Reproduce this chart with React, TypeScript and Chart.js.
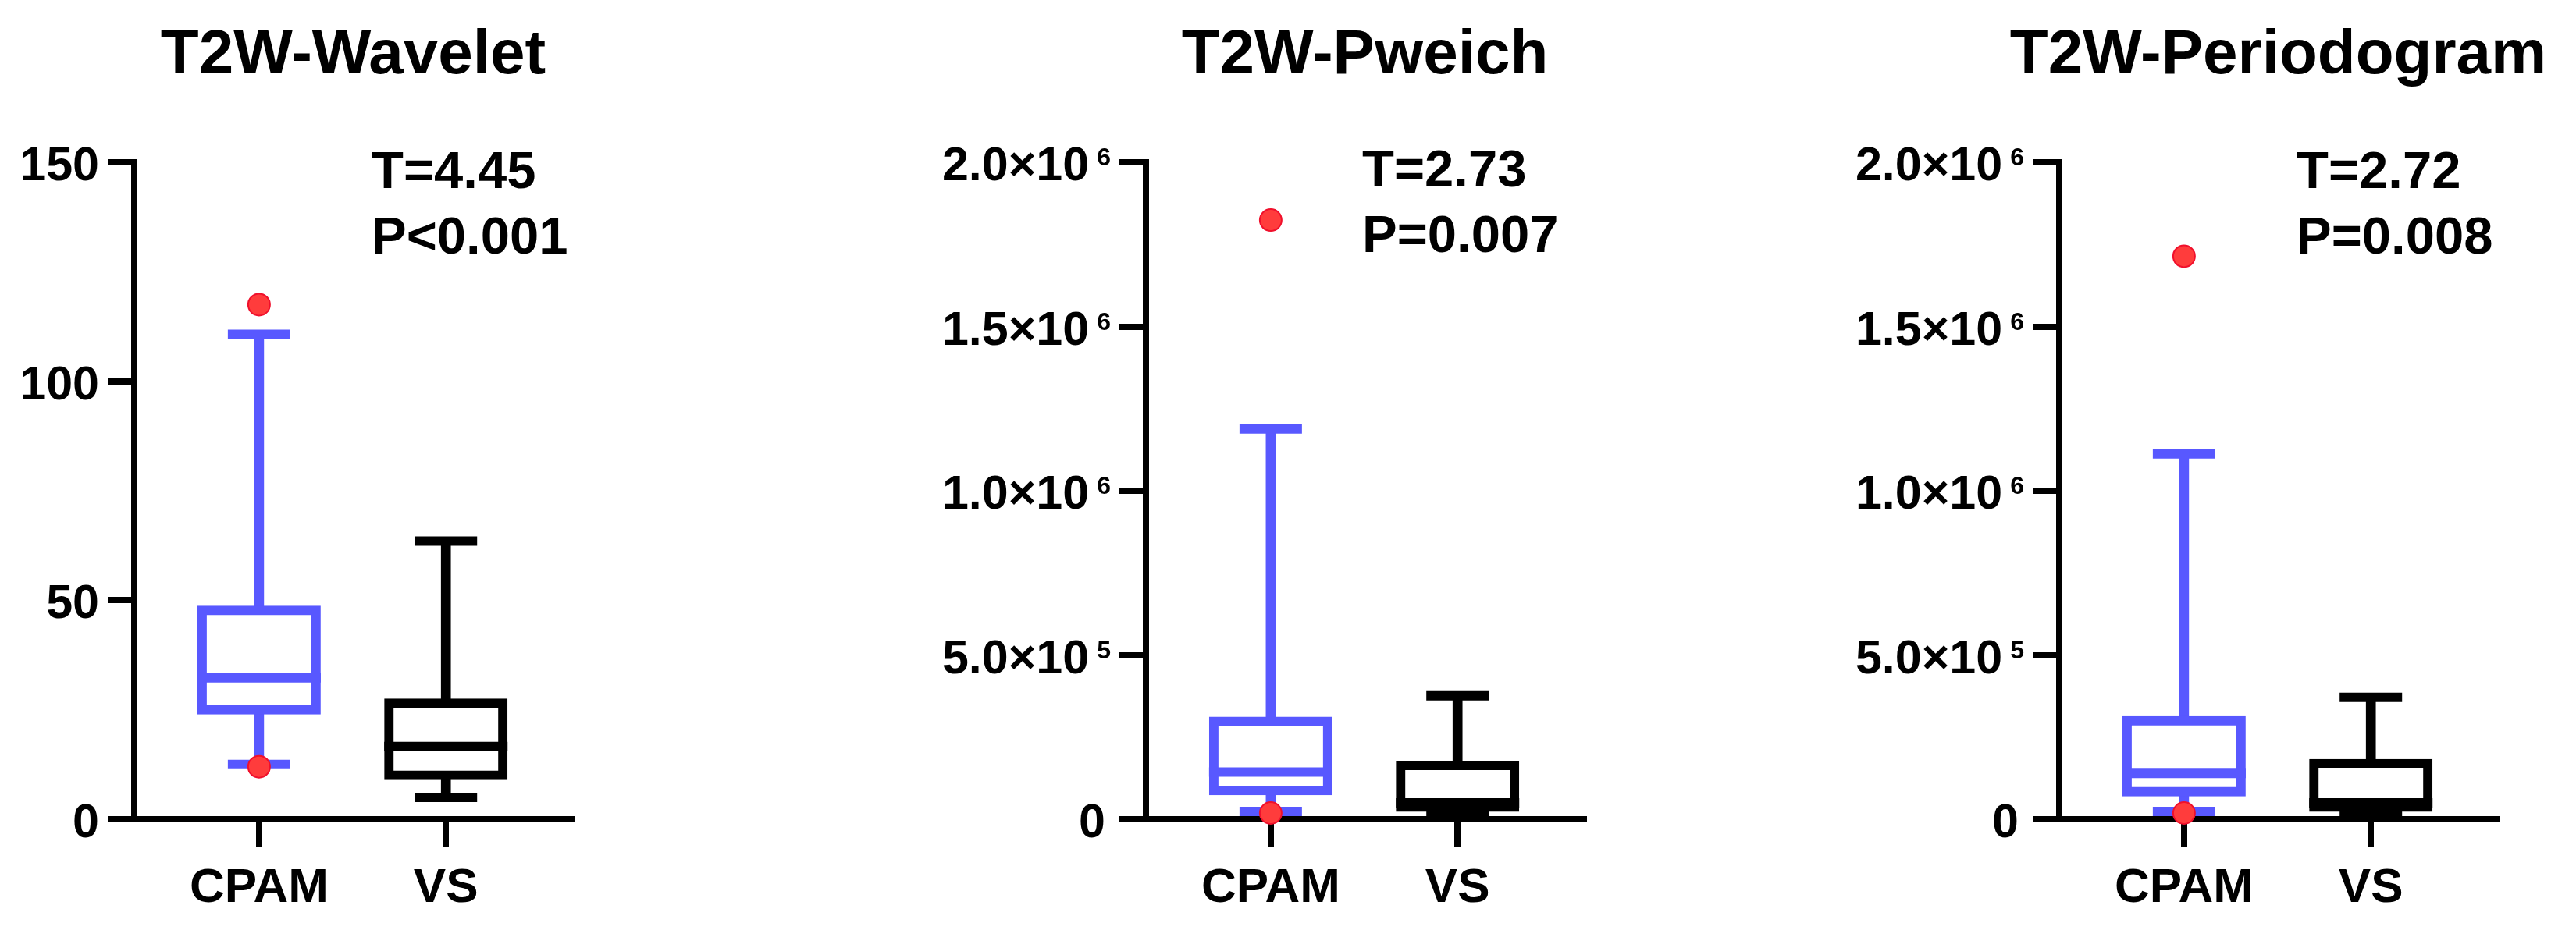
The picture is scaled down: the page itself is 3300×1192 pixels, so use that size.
import React, { useEffect, useRef } from 'react';
import { Chart, registerables } from 'chart.js';

Chart.register(...registerables);

// ---------------- data ----------------
const categories = ['CPAM', 'VS'];
const categoryPositions = [1, 2];

const panelTitles = ['T2W-Wavelet', 'T2W-Pweich', 'T2W-Periodogram'];
const statT = ['T=4.45', 'T=2.73', 'T=2.72'];
const statP = ['P<0.001', 'P=0.007', 'P=0.008'];

// values are [CPAM, VS]
const waveletMin = [12.5, 5.0];
const waveletQ1 = [25.0, 10.0];
const waveletMedian = [32.3, 16.6];
const waveletQ3 = [47.7, 26.5];
const waveletMax = [110.7, 63.5];
const waveletOutliers = [117.5, 12.0]; // both belong to CPAM

const pweichMin = [24000, 14000];
const pweichQ1 = [87000, 37000];
const pweichMedian = [144000, 50000];
const pweichQ3 = [298000, 164000];
const pweichMax = [1188000, 376000];
const pweichOutliers = [1824000, 19000]; // CPAM

const periodogramMin = [24000, 13000];
const periodogramQ1 = [84000, 37000];
const periodogramMedian = [139500, 50000];
const periodogramQ3 = [300000, 169000];
const periodogramMax = [1112000, 371000];
const periodogramOutliers = [1714000, 19000]; // CPAM

const waveletTicks = [0, 50, 100, 150];
const waveletTickMain = ['0', '50', '100', '150'];
const waveletTickSup = ['', '', '', ''];

const powerTicks = [0, 500000, 1000000, 1500000, 2000000];
const powerTickMain = ['0', '5.0×10', '1.0×10', '1.5×10', '2.0×10'];
const powerTickSup = ['', '5', '6', '6', '6'];

// ---------------- styles ----------------
const BLUE = '#5858FF';
const BLACK = '#000000';
const RED_FILL = '#FF3C3C';
const RED_BORDER = '#F0102C';
const seriesColors = [BLUE, BLACK];
const FONT = '"Liberation Sans", Arial, Helvetica, sans-serif';

const CANVAS_W = 1100;
const CANVAS_H = 1192;
const AREA_TOP = 208;
const AREA_BOTTOM = 1050;
const Y_SCALE_W = 40;
const X_SCALE_H = 40;

interface PanelSpec {
  title: string;
  t: string;
  p: string;
  min: number[];
  q1: number[];
  median: number[];
  q3: number[];
  max: number[];
  outliers: number[];
  outlierCategory: number;
  yMax: number;
  ticks: number[];
  tickMain: string[];
  tickSup: string[];
  areaLeft: number;
  areaRight: number;
  statOffset: number;
  statBase: number;
}

const panels: PanelSpec[] = [
  {
    title: panelTitles[0], t: statT[0], p: statP[0],
    min: waveletMin, q1: waveletQ1, median: waveletMedian, q3: waveletQ3, max: waveletMax,
    outliers: waveletOutliers, outlierCategory: 0,
    yMax: 150, ticks: waveletTicks, tickMain: waveletTickMain, tickSup: waveletTickSup,
    areaLeft: 172, areaRight: 733, statOffset: 304, statBase: 241,
  },
  {
    title: panelTitles[1], t: statT[1], p: statP[1],
    min: pweichMin, q1: pweichQ1, median: pweichMedian, q3: pweichQ3, max: pweichMax,
    outliers: pweichOutliers, outlierCategory: 0,
    yMax: 2000000, ticks: powerTicks, tickMain: powerTickMain, tickSup: powerTickSup,
    areaLeft: 368, areaRight: 929, statOffset: 277, statBase: 239,
  },
  {
    title: panelTitles[2], t: statT[2], p: statP[2],
    min: periodogramMin, q1: periodogramQ1, median: periodogramMedian, q3: periodogramQ3, max: periodogramMax,
    outliers: periodogramOutliers, outlierCategory: 0,
    yMax: 2000000, ticks: powerTicks, tickMain: powerTickMain, tickSup: powerTickSup,
    areaLeft: 438, areaRight: 999, statOffset: 304, statBase: 241,
  },
];

function makeConfig(spec: PanelSpec, idx: number): any {
  const pts = (vals: number[]) => vals.map((v, k) => ({ x: categoryPositions[k], y: v }));
  const ranges = (a: number[], b: number[]) => a.map((v, k) => ({ x: categoryPositions[k], y: [v, b[k]] }));

  const capData = [
    ...pts(spec.max),
    ...pts(spec.min),
  ];
  const capColors = [...seriesColors, ...seriesColors];

  const textPlugin = {
    id: 'panelText' + idx,
    afterDraw(chart: any) {
      const ctx = chart.ctx as CanvasRenderingContext2D;
      const area = chart.chartArea;
      const ys = chart.scales.y;
      const xs = chart.scales.x;
      ctx.save();
      ctx.fillStyle = '#000';
      ctx.textBaseline = 'alphabetic';

      // title
      ctx.font = `bold 80px ${FONT}`;
      ctx.textAlign = 'center';
      ctx.fillText(spec.title, (area.left + area.right) / 2, 94);

      // y tick labels
      const hasSup = spec.tickSup.some((s) => s);
      spec.ticks.forEach((v, k) => {
        const y = ys.getPixelForValue(v);
        let xr = area.left - 45;
        const sup = spec.tickSup[k];
        ctx.textAlign = 'right';
        if (sup) {
          ctx.font = `bold 32px ${FONT}`;
          ctx.fillText(sup, xr, y + 4);
          xr -= ctx.measureText(sup).width + 10;
        } else if (hasSup) {
          xr -= 7;
        }
        ctx.font = `bold 61px ${FONT}`;
        ctx.fillText(spec.tickMain[k], xr, y + 23);
      });

      // x tick labels
      ctx.font = `bold 62px ${FONT}`;
      ctx.textAlign = 'center';
      categories.forEach((c, k) => {
        ctx.fillText(c, xs.getPixelForValue(categoryPositions[k]), 1156);
      });

      // statistics
      ctx.font = `bold 67px ${FONT}`;
      ctx.textAlign = 'left';
      ctx.fillText(spec.t, area.left + spec.statOffset, spec.statBase);
      ctx.fillText(spec.p, area.left + spec.statOffset, spec.statBase + 84);
      ctx.restore();
    },
  };

  return {
    type: 'bar',
    data: {
      datasets: [
        {
          type: 'bar',
          data: ranges(spec.q3, spec.max),
          backgroundColor: seriesColors,
          borderWidth: 0,
          barThickness: 12,
          grouped: false,
          clip: false,
          order: 6,
        },
        {
          type: 'bar',
          data: ranges(spec.min, spec.q1),
          backgroundColor: seriesColors,
          borderWidth: 0,
          barThickness: 12,
          grouped: false,
          clip: false,
          order: 5,
        },
        {
          type: 'bar',
          data: ranges(spec.q1, spec.q3),
          backgroundColor: 'rgba(0,0,0,0)',
          borderColor: seriesColors,
          borderWidth: 0.001,
          inflateAmount: 6,
          borderSkipped: false,
          barThickness: 146,
          grouped: false,
          clip: false,
          order: 4,
        },
        {
          type: 'line',
          data: pts(spec.median),
          showLine: false,
          pointStyle: 'line',
          pointRadius: 79,
          pointBorderWidth: 12,
          pointBorderColor: seriesColors,
          clip: false,
          order: 3,
        },
        {
          type: 'line',
          data: capData,
          showLine: false,
          pointStyle: 'line',
          pointRadius: 40,
          pointBorderWidth: 12,
          pointBorderColor: capColors,
          clip: false,
          order: 2,
        },
        {
          type: 'line',
          data: spec.outliers.map((v) => ({ x: categoryPositions[spec.outlierCategory], y: v })),
          showLine: false,
          pointStyle: 'circle',
          pointRadius: 14,
          pointBorderWidth: 2,
          pointBackgroundColor: RED_FILL,
          pointBorderColor: RED_BORDER,
          clip: false,
          order: 1,
        },
      ],
    },
    options: {
      responsive: false,
      animation: false,
      devicePixelRatio: 1,
      events: [],
      layout: {
        padding: {
          left: spec.areaLeft - Y_SCALE_W,
          right: CANVAS_W - spec.areaRight,
          top: AREA_TOP,
          bottom: CANVAS_H - AREA_BOTTOM - X_SCALE_H,
        },
      },
      plugins: {
        legend: { display: false },
        tooltip: { enabled: false },
        title: { display: false },
      },
      scales: {
        x: {
          type: 'linear',
          min: 0.332,
          max: 2.676,
          offset: false,
          grid: {
            offset: false,
            drawOnChartArea: false,
            drawTicks: true,
            tickLength: 36,
            lineWidth: 8,
            color: BLACK,
          },
          border: { display: true, color: BLACK, width: 8 },
          ticks: { display: false },
          afterBuildTicks: (axis: any) => {
            axis.ticks = categoryPositions.map((v) => ({ value: v }));
          },
          afterFit: (axis: any) => {
            axis.height = X_SCALE_H;
          },
        },
        y: {
          type: 'linear',
          min: 0,
          max: spec.yMax,
          grid: {
            drawOnChartArea: false,
            drawTicks: true,
            tickLength: 34,
            lineWidth: 8,
            color: BLACK,
          },
          border: { display: true, color: BLACK, width: 8 },
          ticks: { display: false },
          afterBuildTicks: (axis: any) => {
            axis.ticks = spec.ticks.map((v) => ({ value: v }));
          },
          afterFit: (axis: any) => {
            axis.width = Y_SCALE_W;
          },
        },
      },
    },
    plugins: [textPlugin],
  };
}

function Panel({ spec, idx }: { spec: PanelSpec; idx: number }) {
  const ref = useRef<HTMLCanvasElement>(null);
  useEffect(() => {
    if (!ref.current) return;
    const chart = new Chart(ref.current, makeConfig(spec, idx));
    return () => chart.destroy();
  }, [spec, idx]);
  return (
    <canvas
      ref={ref}
      width={CANVAS_W}
      height={CANVAS_H}
      style={{
        position: 'absolute',
        left: idx * CANVAS_W,
        top: 0,
        width: CANVAS_W,
        height: CANVAS_H,
      }}
    />
  );
}

export default function App() {
  return (
    <div
      style={{
        position: 'absolute',
        left: 0,
        top: 0,
        width: 3300,
        height: 1192,
        background: '#ffffff',
        overflow: 'hidden',
      }}
    >
      {panels.map((p, i) => (
        <Panel key={i} spec={p} idx={i} />
      ))}
    </div>
  );
}
